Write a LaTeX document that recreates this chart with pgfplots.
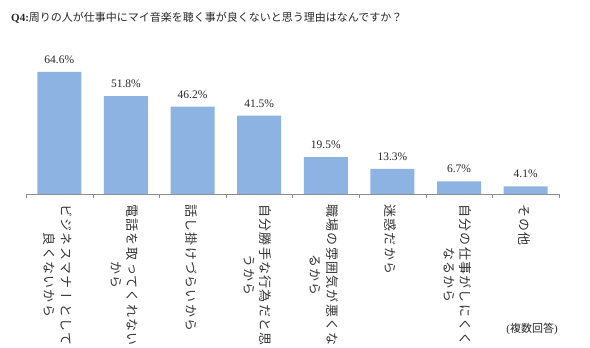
\documentclass[border=0pt]{standalone}
\usepackage{fontspec}
\setmainfont{Liberation Serif}
\newfontfamily\cjk{Noto Sans CJK JP}
\newfontfamily\vfont[Vertical=RotatedGlyphs, LetterSpace=10]{Noto Sans CJK JP}
\usepackage{pgfplots}
\pgfplotsset{compat=1.18}
\definecolor{barblue}{RGB}{141,179,226}
\definecolor{axgray}{RGB}{140,140,140}
\begin{document}
\begin{tikzpicture}
\begin{axis}[
  at={(26bp,154bp)}, anchor=south west,
  scale only axis, width=533bp, height=132.3bp,
  xmin=0, xmax=8, ymin=0, ymax=70,
  axis x line=bottom, axis y line=none,
  axis line style={-, draw=axgray},
  ybar, bar width=44bp,
  xtick={0.5,1.5,...,7.5},
  xticklabels={{ビジネスマナーとして\\良くないから},{電話を取ってくれない\\から},{話し掛けづらいから},{自分勝手な行為だと思\\うから},{職場の雰囲気が悪くな\\るから},{迷惑だから},{自分の仕事がしにくく\\なるから},{その他}},
  xticklabel style={yshift=-10bp, xshift=-1.5bp, rotate=-90, anchor=west, align=center, inner sep=0pt, text=black!80,
    font=\vfont\fontsize{13bp}{16.5bp}\selectfont},
  major tick length=0pt,
  minor xtick={0,1,...,8},
  minor tick length=4bp,
  tick align=outside,
  minor tick style={draw=axgray},
  nodes near coords={\pgfmathprintnumber[fixed,precision=1,fixed zerofill]{\pgfplotspointmeta}\%},
  nodes near coords style={font=\fontsize{11.5bp}{13bp}\selectfont, anchor=south, inner sep=0pt, yshift=8bp, text=black!85},
  /pgf/number format/assume math mode=true,
  clip=false,
]
\addplot[fill=barblue, draw=none] coordinates {(0.5,64.6) (1.5,51.8) (2.5,46.2) (3.5,41.5) (4.5,19.5) (5.5,13.3) (6.5,6.7) (7.5,4.1)};
\end{axis}
\node[anchor=west, inner sep=0pt, text=black!85] at (11bp,330bp) {\fontsize{11bp}{13bp}\selectfont\textbf{Q4:}\cjk 周りの人が仕事中にマイ音楽を聴く事が良くないと思う理由はなんですか？};
\node[anchor=east, inner sep=0pt, text=black!85] at (558bp,19bp) {\fontsize{11bp}{13bp}\selectfont (\cjk 複数回答\rmfamily)};
\pgfresetboundingbox
\path (0,0) rectangle (590bp,348bp);
\end{tikzpicture}
\end{document}
